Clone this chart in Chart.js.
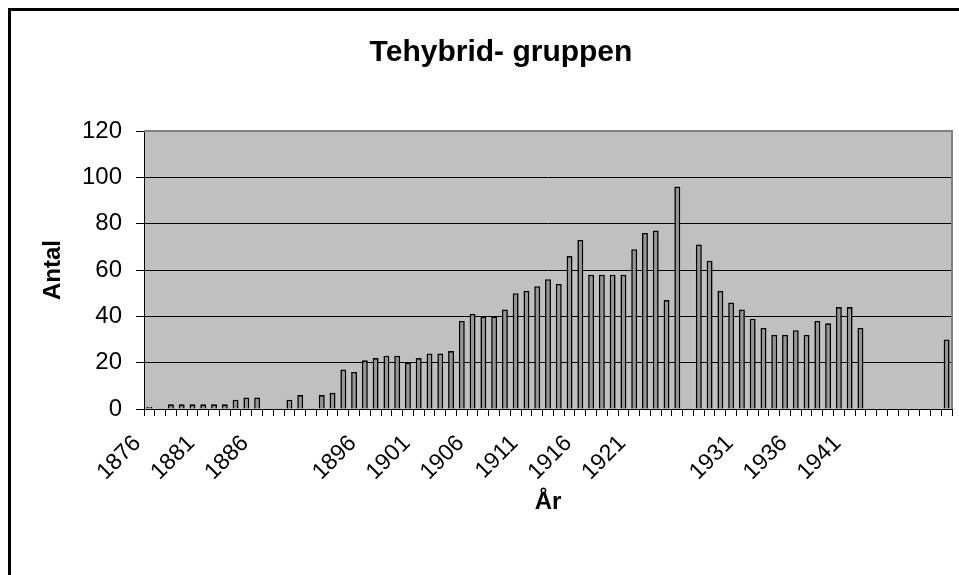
<!DOCTYPE html>
<html>
<head>
<meta charset="utf-8">
<script src="https://cdn.jsdelivr.net/npm/chart.js@4.4.1/dist/chart.umd.min.js"></script>
<style>
  body { margin: 0; background: #fff; }
  #wrap { width: 959px; height: 575px; }
</style>
</head>
<body>
<div id="wrap"><canvas id="myChart" width="959" height="575"></canvas></div>
<script>
// data
var years = [
  '1876', '1877', '1878', '1879', '1880', '1881', '1882', '1883', '1884', '1885',
  '1886', '1887', '1888', '1889', '1890', '', '1892', '1893', '1894', '1895',
  '1896', '1897', '1898', '1899', '1900', '1901', '1902', '1903', '1904', '1905',
  '1906', '1907', '1908', '1909', '1910', '1911', '1912', '1913', '1914', '1915',
  '1916', '1917', '1918', '1919', '1920', '1921', '1922', '1923', '1924', '1925',
  '', '1927', '1928', '1929', '1930', '1931', '1932', '1933', '1934', '1935',
  '1936', '1937', '1938', '1939', '1940', '1941', '1942', '1943', '1944', '1945',
  '', '1947', '1948', '1949', '1950'
];
var antal = [
  1, null, 2, 2, 2, 2, 2, 2, 4, 5,
  5, null, null, 4, 6, null, 6, 7, 17, 16,
  21, 22, 23, 23, 20, 22, 24, 24, 25, 38,
  41, 40, 40, 43, 50, 51, 53, 56, 54, 66,
  73, 58, 58, 58, 58, 69, 76, 77, 47, 96,
  null, 71, 64, 51, 46, 43, 39, 35, 32, 32,
  34, 32, 38, 37, 44, 44, 35, null, null, null,
  null, null, null, null, 30
];
var yTicks = [0, 20, 40, 60, 80, 100, 120];
var chartTitle = 'Tehybrid- gruppen';

var fontFam = "'Liberation Sans', Arial, sans-serif";

// background, frame, plot area and title
const chartFrame = {
  id: 'chartFrame',
  beforeDraw(chart) {
    const {ctx, chartArea: {left, top, right, bottom}} = chart;
    ctx.save();
    ctx.fillStyle = '#fff';
    ctx.fillRect(0, 0, chart.width, chart.height);
    ctx.strokeStyle = '#000';
    ctx.lineWidth = 3;
    ctx.strokeRect(9.5, 9.5, chart.width + 10, chart.height + 10);
    ctx.fillStyle = '#c0c0c0';
    ctx.fillRect(left, top, right - left, bottom - top);
    ctx.restore();
  },
  afterDraw(chart) {
    const {ctx, chartArea: {left, top, right, bottom}} = chart;
    ctx.save();
    ctx.strokeStyle = '#808080';
    ctx.lineWidth = 2;
    ctx.beginPath();
    ctx.moveTo(left, top);
    ctx.lineTo(right, top);
    ctx.lineTo(right, bottom);
    ctx.stroke();

    ctx.fillStyle = '#000';
    ctx.font = 'bold 30px ' + fontFam;
    ctx.textAlign = 'center';
    ctx.textBaseline = 'middle';
    ctx.fillText(chartTitle, 501, 53);
    ctx.restore();
  }
};

const data = {
  labels: years,
  datasets: [{
    label: 'Antal',
    data: antal,
    backgroundColor: '#969696',
    borderColor: '#000',
    borderWidth: 1.6,
    barPercentage: 0.55,
    categoryPercentage: 1
  }]
};

const config = {
  type: 'bar',
  data,
  options: {
    responsive: false,
    animation: false,
    layout: { padding: { left: 0, right: 7, top: 131, bottom: 0 } },
    plugins: {
      legend: { display: false },
      tooltip: { enabled: false },
      title: { display: false }
    },
    scales: {
      x: {
        grid: { offset: true, drawOnChartArea: false, drawTicks: true, tickLength: 7, color: '#000' },
        border: { display: true, color: '#000', width: 1 },
        ticks: {
          autoSkip: false,
          minRotation: 45,
          maxRotation: 45,
          padding: 14,
          labelOffset: -12,
          color: '#000',
          font: { family: fontFam, size: 23 },
          callback: function(val, idx) {
            return idx % 5 === 0 ? this.getLabelForValue(val) : '';
          }
        },
        title: {
          display: true,
          text: 'År',
          color: '#000',
          font: { family: fontFam, size: 24, weight: 'bold' },
          padding: { top: 0, bottom: 58 }
        },
        afterFit(scale) {
          scale.height = 166;
          scale.paddingRight = 0;
        }
      },
      y: {
        min: 0,
        max: 120,
        afterBuildTicks(scale) { scale.ticks = yTicks.map(v => ({value: v})); },
        grid: { color: '#000', lineWidth: 1, drawTicks: true, tickLength: 8 },
        border: { display: true, color: '#000', width: 1 },
        ticks: {
          padding: 14,
          color: '#000',
          font: { family: fontFam, size: 24 }
        },
        title: {
          display: true,
          text: 'Antal',
          color: '#000',
          font: { family: fontFam, size: 24, weight: 'bold' },
          padding: { top: 39, bottom: 0 }
        },
        afterFit(scale) { scale.width = 144; }
      }
    }
  },
  plugins: [chartFrame]
};

const myChart = new Chart(document.getElementById('myChart'), config);
</script>
</body>
</html>
